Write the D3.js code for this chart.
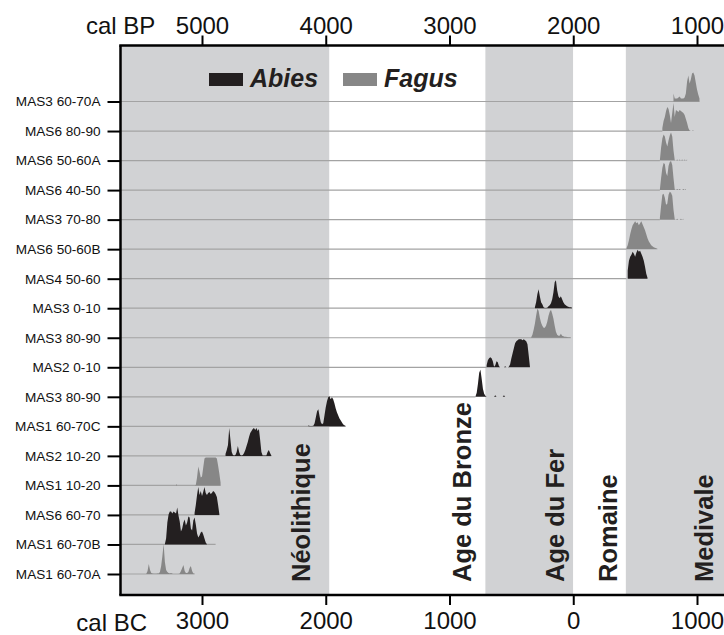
<!DOCTYPE html>
<html><head><meta charset="utf-8">
<script src="https://cdn.jsdelivr.net/npm/d3@7"></script>
<style>
body{margin:0;background:#fff}
svg{display:block}
text{font-family:"Liberation Sans",Arial,Helvetica,sans-serif}
</style>
</head><body>
<svg id="c" width="724" height="635"></svg>
<script>
// ---------------- DATA ----------------
const samples = ["MAS3 60-70A","MAS6 80-90","MAS6 50-60A","MAS6 40-50","MAS3 70-80","MAS6 50-60B","MAS4 50-60","MAS3 0-10","MAS3 80-90","MAS2 0-10","MAS3 80-90","MAS1 60-70C","MAS2 10-20","MAS1 10-20","MAS6 60-70","MAS1 60-70B","MAS1 60-70A"];
const taxa = ["Fagus","Fagus","Fagus","Fagus","Fagus","Fagus","Abies","Abies","Fagus","Abies","Abies","Abies","Abies","Fagus","Abies","Abies","Fagus"];
// first calendar year (negative = BC) of each probability series, 10-year steps
const startYears = [810,720,700,700,700,430,440,-310,-340,-700,-790,-2140,-2810,-3210,-3060,-3300,-3450];
const stepYears = 10;
const probs = [
  [8,3,3,3,4,5,3,3,3,4,8,20,26,18,22,28,29,26,19,12,7,3],
  [3,10,14,20,24,22,16,8,18,28,14,21,20,19,21,20,19,18,16,12,8,3,0.5,0,0,1],
  [0.5,13,22,26,24,18,14,20,25,28,24,10,0.5,0,1,0,1,0,1,0,1,0,1],
  [0.5,12,22,27,26,17,14,24,28,29,25,12,0.5,0,1,0,1,0,0,1,0,1],
  [2,14,25,26,22,15,16,25,28,27,24,10,0.5,0,1,0,0,1,0,1],
  [1,4,9,15,20,24,26,28,26,27,24,26,28,25,22,19,15,11,8,6,4,3,2,1.5,1,0.5],
  [8,18,22,24,27,25,22,26,29,27,28,25,22,18,12,5,1],
  [1,6,14,19,12,6,4,1,0.3,0.3,0.5,2,3,5,9,16,26,28,18,12,10,12,9,6,4,3,2,1.5,1,1,0.5],
  [0.5,3,8,14,22,29,27,20,15,12,10,10,12,16,22,26,28,24,19,12,6,3,2,2,4,2,1.5,1,1,0.8,0.5,0.5,0.3],
  [2,7,9,10,9,6,0.5,2,6,5,1,0,0,0,0,1,0,0,0.5,3,9,14,19,24,26,27,28,28,28,27,28,27,26,23,12,0.5],
  [0.3,4,13,24,27,18,8,3,1,0,0,0,0,0,0,0,1.5,0,0,0,0,0,0,1.5,0],
  [1,0.3,0.3,0.3,0.5,3,9,15,17,10,4,2,3,11,19,25,29,30,27,29,27,23,18,14,11,8,6,4,2,1,0.3],
  [2,6,11,28,16,4,1,0.5,1,4,10,4,1,0.5,1,3,6,10,14,19,23,25,27,28,26,28,25,27,16,4,0.5,0.3,0.3,0.5,4,6,3,0.3],
  [1.5,0,0,0,0,0,0,0,0,0,0,0,0,0,0,0,0.5,8,19,14,8,9,18,27,28,28,28,28,28,28,28,28,28,27,20,12,3],
  [2,10,20,28,20,24,19,23,28,22,20,22,23,21,22,24,23,21,18,10,1],
  [0.5,6,22,30,33,33,31,33,32,31,37,29,23,13,16,22,25,19,22,28,27,16,14,24,27,20,11,7,9,12,13,10,6,2,0.3],
  [0.3,3,10,4,1,0.5,0.3,0.3,0.3,0.5,0.5,2,8,18,30,12,4,2,1,0.5,1,0.3,0,0,0,0,0,0.5,3,6,9,3,1,1,2,6,8,3,0.5,0.3]
];
// year where each sample's reference line stops
const lineEnds = [1020,720,700,700,700,430,430,-10,-20,-700,-790,-1840,-2440,-2850,-2860,-2890,-3060];

const periods = ["Néolithique","Age du Bronze","Age du Fer","Romaine","Medivale"];
const periodStarts = [-4000,-1970,-710,0,425];
const periodEnds = [-1970,-710,0,425,1500];
const periodShaded = [true,false,true,false,true];

const bpTicks = [5000,4000,3000,2000,1000];
const bcTicks = [-3000,-2000,-1000,0,1000];
const legendTaxa = ["Abies","Fagus"];

// ---------------- LAYOUT ----------------
const plot = {left:120.5, right:760, top:45.5, bottom:595};
const color = {Abies:"#231f20", Fagus:"#878787"};
const shade = "#d1d2d4";
const svg = d3.select("#c");

const x = d3.scaleLinear().domain([-3000,1000]).range([202,697]);
const xBP = d3.scaleLinear().domain([5000,1000]).range([202,697]);
const y = d3.scalePoint().domain(d3.range(samples.length)).range([101.5,574]);
const h = d3.scaleLinear().domain([0,30]).range([0,30]);

// period backgrounds
const per = periods.map((p,i)=>({name:p,s:periodStarts[i],e:periodEnds[i],shaded:periodShaded[i]}));
svg.append("g").selectAll("rect").data(per).enter().append("rect")
  .attr("x", d=>Math.max(plot.left, x(d.s)))
  .attr("width", d=>Math.min(plot.right, x(d.e)) - Math.max(plot.left, x(d.s)))
  .attr("y", plot.top).attr("height", plot.bottom-plot.top)
  .attr("fill", d=>d.shaded?shade:"#fff");

// reference lines
svg.append("g").selectAll("line").data(samples).enter().append("line")
  .attr("x1", plot.left).attr("x2", (d,i)=>x(lineEnds[i]))
  .attr("y1", (d,i)=>y(i)).attr("y2", (d,i)=>y(i))
  .attr("stroke","#a3a3a3").attr("stroke-width",1.2);

// distributions
const series = samples.map((s,i)=>({i, taxon:taxa[i], pts: probs[i].map((v,j)=>[startYears[i]+j*stepYears, v])}));
svg.append("g").selectAll("path").data(series).enter().append("path")
  .attr("d", d=>d3.area().x(p=>x(p[0])).y0(y(d.i)).y1(p=>y(d.i)-h(p[1])).curve(d3.curveLinear)(d.pts))
  .attr("fill", d=>color[d.taxon]);

// period labels (rotated)
const labelX = [310, 471, 564, 617, 713];
svg.append("g").selectAll("text").data(per).enter().append("text")
  .attr("transform", (d,i)=>`translate(${labelX[i]},582) rotate(-90)`)
  .attr("font-size",25.5).attr("font-weight","bold").attr("fill","#231f20")
  .text(d=>d.name);

// legend
const lg = svg.append("g");
const legX = [209, 343];
legendTaxa.forEach((t,k)=>{
  lg.append("rect").attr("x",legX[k]).attr("y",73).attr("width",34).attr("height",13).attr("fill",color[t]);
  lg.append("text").attr("x",legX[k]+41).attr("y",87).attr("font-size",25)
    .attr("font-weight","bold").attr("font-style","italic").attr("fill","#231f20").text(t);
});

// frame lines
const frame = svg.append("g").attr("stroke","#000").attr("stroke-width",2.5);
frame.append("line").attr("x1",plot.left-1.25).attr("x2",724).attr("y1",plot.top).attr("y2",plot.top);
frame.append("line").attr("x1",plot.left-1.25).attr("x2",724).attr("y1",plot.bottom).attr("y2",plot.bottom);
frame.append("line").attr("x1",plot.left).attr("x2",plot.left).attr("y1",plot.top).attr("y2",plot.bottom);

// axes
function styleAxis(g, fs){
  g.select(".domain").remove();
  g.selectAll(".tick line").attr("stroke","#000").attr("stroke-width",2);
  g.selectAll(".tick text").attr("font-size",fs).attr("fill","#111")
    .attr("font-family",'"Liberation Sans",Arial,sans-serif');
}
const topAxisG = svg.append("g").attr("transform",`translate(0,${plot.top})`)
  .call(d3.axisTop(xBP).tickValues(bpTicks).tickSize(10).tickPadding(2).tickFormat(d3.format("d")));
styleAxis(topAxisG,24);
const botAxisG = svg.append("g").attr("transform",`translate(0,${plot.bottom})`)
  .call(d3.axisBottom(x).tickValues(bcTicks).tickSize(10).tickPadding(7).tickFormat(d=>String(Math.abs(d))));
styleAxis(botAxisG,24);
const leftAxisG = svg.append("g").attr("transform",`translate(${plot.left},0)`)
  .call(d3.axisLeft(y).tickSize(13).tickPadding(7).tickFormat(i=>samples[i]));
styleAxis(leftAxisG,13.6);

svg.append("text").attr("x",86).attr("y",34).attr("font-size",24).attr("fill","#111").text("cal BP");
svg.append("text").attr("x",147).attr("y",631).attr("text-anchor","end").attr("font-size",24).attr("fill","#111").text("cal BC");
</script>
</body></html>
